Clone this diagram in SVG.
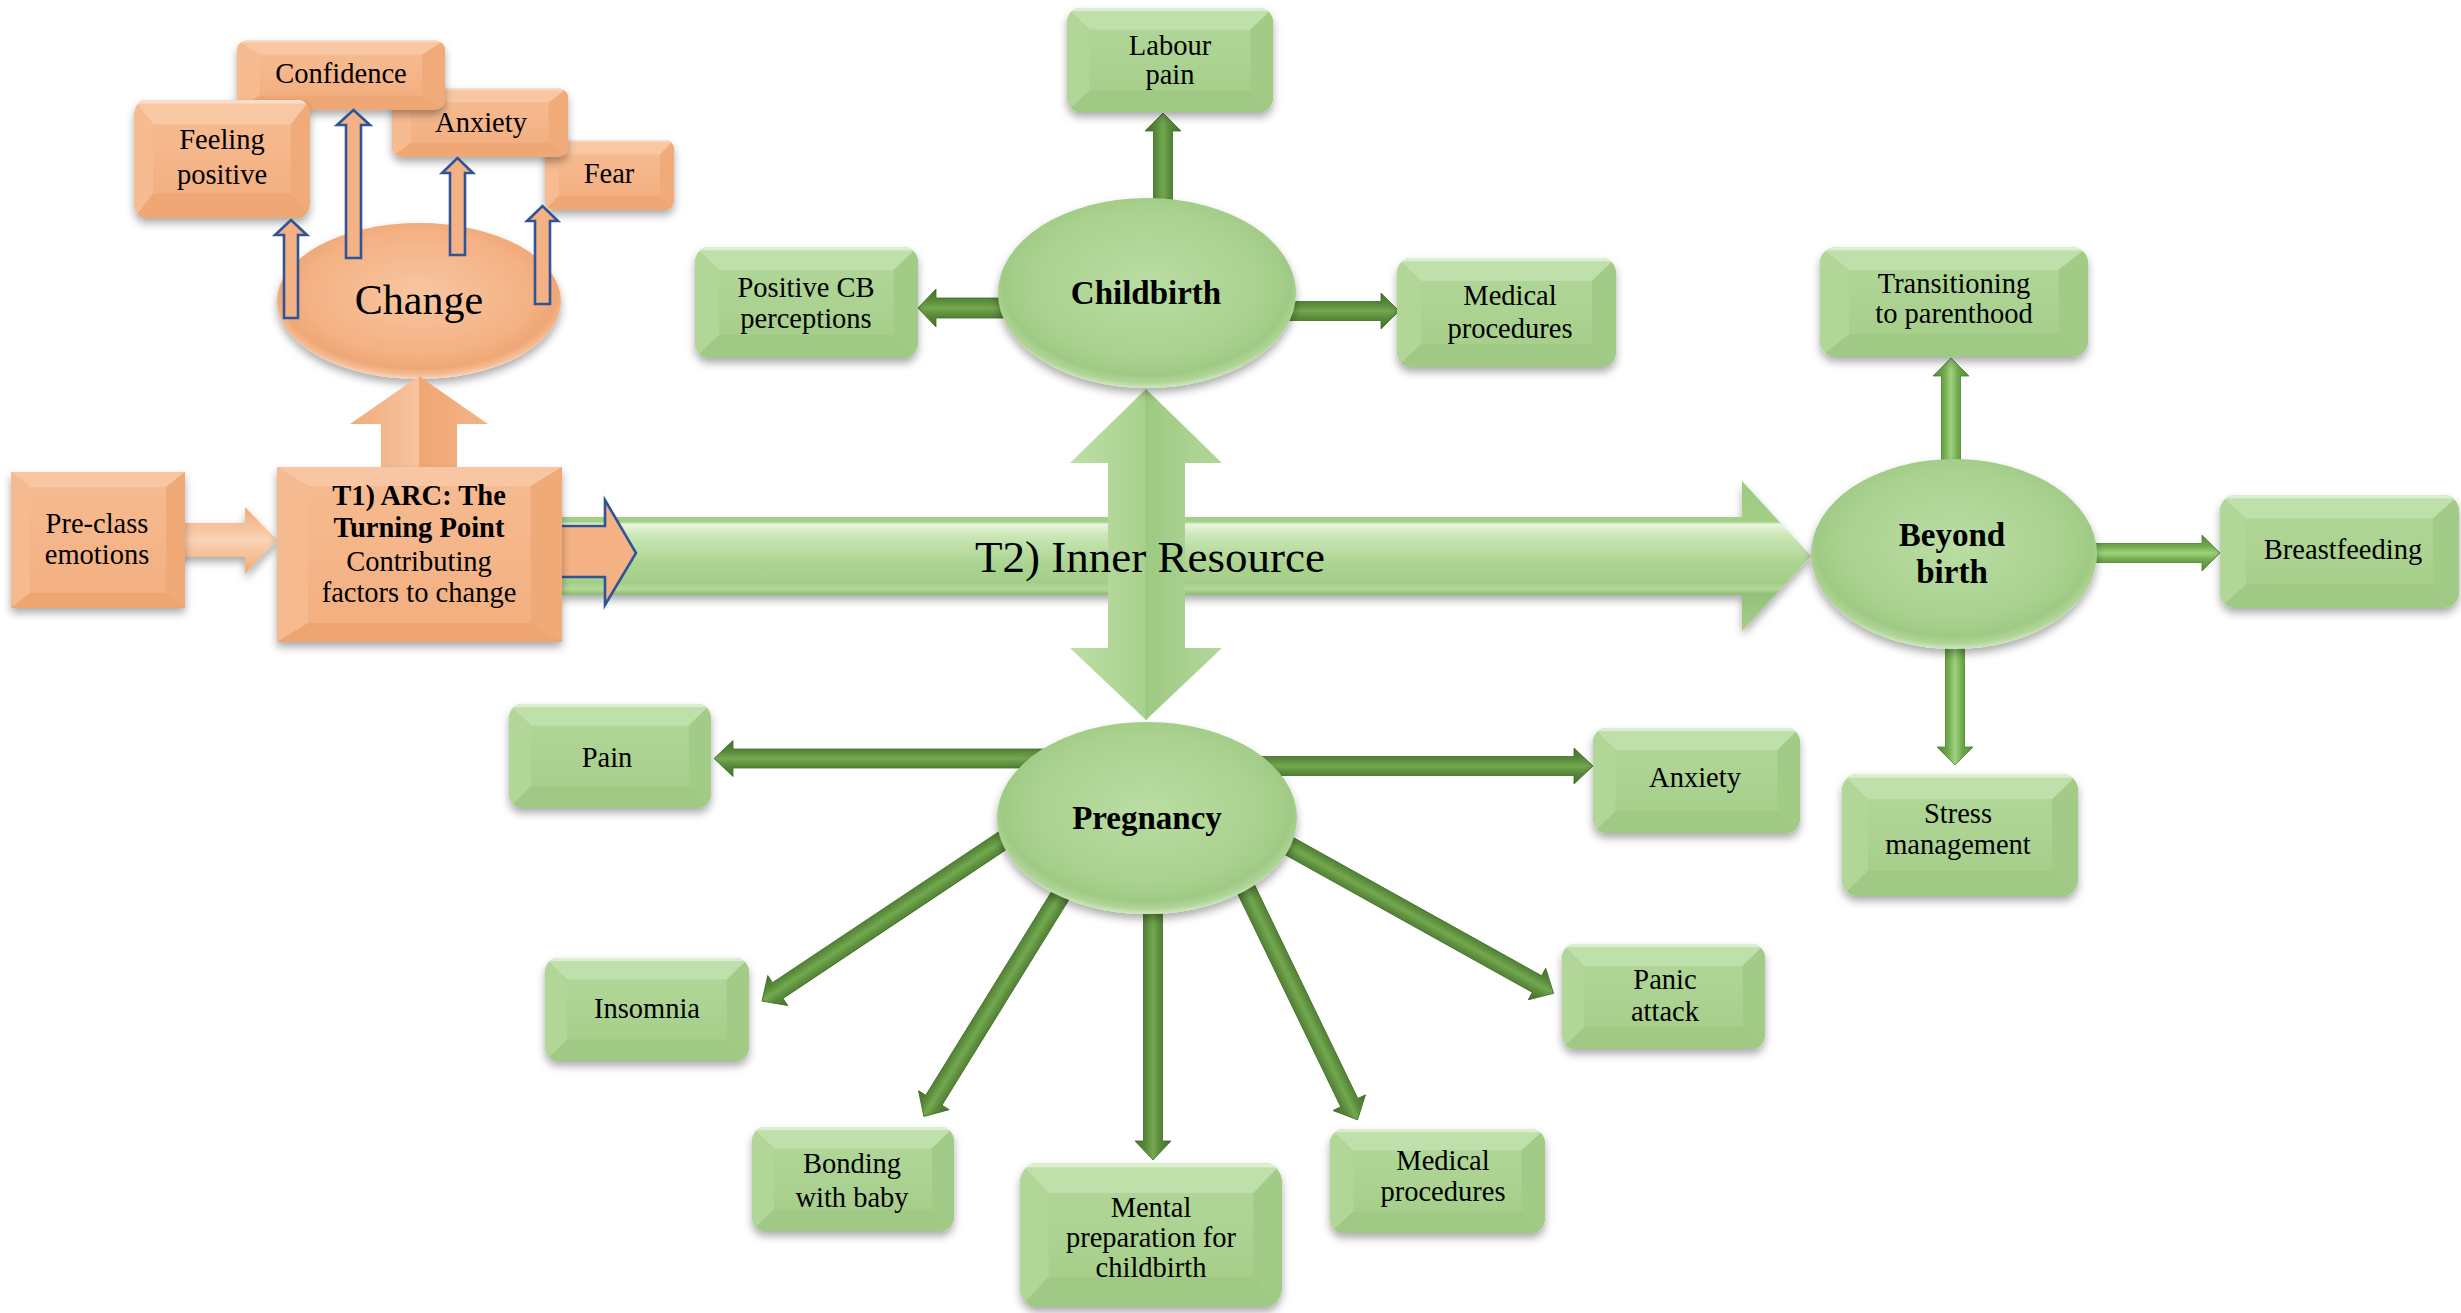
<svg xmlns="http://www.w3.org/2000/svg" width="2461" height="1313" viewBox="0 0 2461 1313">
  <style>
    .t { font-family: "Liberation Serif", "Times New Roman", serif; font-size: 28.5px; fill: #000; text-anchor: middle; }
    .b { font-weight: bold; font-size: 33px; }
    .tb { font-weight: bold; }
    .big { font-size: 42px; }
    .t2 { font-size: 45px; text-anchor: start; }
    .hollow { fill: #f4b183; stroke: #2f5597; stroke-width: 2.6; stroke-linejoin: miter; }
    .dark { fill: url(#darkArrow); stroke: #3f6b25; stroke-width: 0.8; }
    .light { fill: url(#lightArrow); stroke: #4a8030; stroke-width: 0.8; }
  </style>
  <defs>
    <filter id="sh" x="-10%" y="-10%" width="120%" height="135%">
      <feDropShadow dx="0" dy="5" stdDeviation="4" flood-color="#000" flood-opacity="0.33"/>
    </filter>
    <clipPath id="rr"><rect width="200" height="100" rx="13" ry="14"/></clipPath>
    <linearGradient id="gface" x1="0" y1="0" x2="0" y2="1">
      <stop offset="0" stop-color="#b0d697"/>
      <stop offset="1" stop-color="#a7cf8b"/>
    </linearGradient>
    <linearGradient id="oface" x1="0" y1="0" x2="0" y2="1">
      <stop offset="0" stop-color="#f6ba90"/>
      <stop offset="1" stop-color="#f3b081"/>
    </linearGradient>
    <!-- bevelled green rounded box -->
    <symbol id="gbox" viewBox="0 0 200 100" preserveAspectRatio="none">
      <g clip-path="url(#rr)">
        <rect width="200" height="100" fill="#a9d18e"/>
        <polygon points="0,0 200,0 178,21 22,21" fill="#c0e0ab"/>
        <polygon points="0,0 22,21 22,79 0,100" fill="#b1d698"/>
        <polygon points="200,0 178,21 178,79 200,100" fill="#a2cb87"/>
        <polygon points="0,100 22,79 178,79 200,100" fill="#a0c985"/>
        <rect x="22" y="21" width="156" height="58" fill="url(#gface)"/>
        <rect x="0" y="0" width="200" height="3" fill="#dcefcf"/>
      </g>
    </symbol>
    <!-- bevelled orange rounded box -->
    <symbol id="obox" viewBox="0 0 200 100" preserveAspectRatio="none">
      <g clip-path="url(#rr)">
        <rect width="200" height="100" fill="#f4b183"/>
        <polygon points="0,0 200,0 178,21 22,21" fill="#f8c8a5"/>
        <polygon points="0,0 22,21 22,79 0,100" fill="#f6bb91"/>
        <polygon points="200,0 178,21 178,79 200,100" fill="#f1ab7a"/>
        <polygon points="0,100 22,79 178,79 200,100" fill="#efa775"/>
        <rect x="22" y="21" width="156" height="58" fill="url(#oface)"/>
        <rect x="0" y="0" width="200" height="3" fill="#fbdcc6"/>
      </g>
    </symbol>
    <!-- bevelled orange square-cornered box -->
    <symbol id="osq" viewBox="0 0 200 200" preserveAspectRatio="none">
      <rect width="200" height="200" fill="#f4b183"/>
      <polygon points="0,0 200,0 178,22 22,22" fill="#f8c6a2"/>
      <polygon points="0,0 22,22 22,178 0,200" fill="#f6ba90"/>
      <polygon points="200,0 178,22 178,178 200,200" fill="#f0aa78"/>
      <polygon points="0,200 22,178 178,178 200,200" fill="#eea572"/>
      <rect x="22" y="22" width="156" height="156" fill="url(#oface)"/>
    </symbol>
    <radialGradient id="gEll" cx="50%" cy="45%" r="55%">
      <stop offset="0" stop-color="#bbdda4"/>
      <stop offset="0.72" stop-color="#a9d18e"/>
      <stop offset="0.88" stop-color="#9fca84"/>
      <stop offset="0.95" stop-color="#b0d597"/>
      <stop offset="1" stop-color="#d0e8c0"/>
    </radialGradient>
    <radialGradient id="oEll" cx="50%" cy="45%" r="55%">
      <stop offset="0" stop-color="#f8c6a2"/>
      <stop offset="0.72" stop-color="#f4b183"/>
      <stop offset="0.88" stop-color="#efa776"/>
      <stop offset="0.95" stop-color="#f5bb92"/>
      <stop offset="1" stop-color="#fad6bc"/>
    </radialGradient>
    <linearGradient id="darkArrow" x1="0" y1="0" x2="0" y2="1">
      <stop offset="0" stop-color="#44702a"/>
      <stop offset="0.3" stop-color="#58893a"/>
      <stop offset="0.5" stop-color="#74a84f"/>
      <stop offset="0.7" stop-color="#58893a"/>
      <stop offset="1" stop-color="#44702a"/>
    </linearGradient>
    <linearGradient id="lightArrow" x1="0" y1="0" x2="0" y2="1">
      <stop offset="0" stop-color="#4e8a31"/>
      <stop offset="0.3" stop-color="#6ea84a"/>
      <stop offset="0.5" stop-color="#a0d27f"/>
      <stop offset="0.7" stop-color="#6ea84a"/>
      <stop offset="1" stop-color="#4e8a31"/>
    </linearGradient>
    <linearGradient id="hArrow" x1="0" y1="0" x2="0" y2="1">
      <stop offset="0" stop-color="#9ccb80"/>
      <stop offset="0.27" stop-color="#a3cf87"/>
      <stop offset="0.29" stop-color="#e9f5de"/>
      <stop offset="0.36" stop-color="#cbe7b7"/>
      <stop offset="0.55" stop-color="#acd491"/>
      <stop offset="0.68" stop-color="#a4ce88"/>
      <stop offset="0.72" stop-color="#b4d99c"/>
      <stop offset="0.75" stop-color="#93c177"/>
      <stop offset="1" stop-color="#a3cf87"/>
    </linearGradient>
    <linearGradient id="vArrow" x1="0" y1="0" x2="1" y2="0">
      <stop offset="0" stop-color="#bddfa6"/>
      <stop offset="0.5" stop-color="#a9d18e"/>
      <stop offset="0.5" stop-color="#9dc982"/>
      <stop offset="1" stop-color="#b3d89a"/>
    </linearGradient>
    <linearGradient id="oArrowV" x1="0" y1="0" x2="1" y2="0">
      <stop offset="0" stop-color="#f2aa78"/>
      <stop offset="0.5" stop-color="#f7c4a0"/>
      <stop offset="0.5" stop-color="#f0a774"/>
      <stop offset="1" stop-color="#f4b486"/>
    </linearGradient>
    <linearGradient id="oArrowH" x1="0" y1="0" x2="0" y2="1">
      <stop offset="0" stop-color="#f2aa78"/>
      <stop offset="0.5" stop-color="#fad3b6"/>
      <stop offset="1" stop-color="#f0a672"/>
    </linearGradient>
  </defs>

  <rect width="2461" height="1313" fill="#fff"/>

  <!-- orange cluster: the change and its emotions -->
  <g id="node-fear">
    <use href="#obox" x="545" y="140" width="129" height="70" filter="url(#sh)"/>
    <text class="t" x="609" y="183">Fear</text>
  </g>
  <g id="node-anxiety-change">
    <use href="#obox" x="392" y="88" width="176" height="69" filter="url(#sh)"/>
    <text class="t" x="481" y="132">Anxiety</text>
  </g>
  <g id="node-confidence">
    <use href="#obox" x="237" y="40" width="208" height="70" filter="url(#sh)"/>
    <text class="t" x="341" y="83">Confidence</text>
  </g>
  <g id="node-feeling-positive">
    <use href="#obox" x="134" y="100" width="176" height="118" filter="url(#sh)"/>
    <text class="t" x="222" y="149">Feeling</text>
    <text class="t" x="222" y="184">positive</text>
  </g>
  <g id="node-change">
    <ellipse cx="419" cy="301" rx="142" ry="78" fill="url(#oEll)" filter="url(#sh)"/>
    <text class="t big" x="419" y="314">Change</text>
  </g>

  <g id="connectors">
    <!-- T2 main flow arrow and the double arrow crossing it -->
    <path d="M560,517H1742V481L1811,556L1742,631V595H560Z" fill="url(#hArrow)" filter="url(#sh)"/>
    <path d="M1146,389L1222,463H1185V648H1222L1146,720L1070,648H1108V463H1070Z" fill="url(#vArrow)"/>
    <path d="M1146,389V720" stroke="#9ac67e" stroke-width="1" fill="none"/>
    <text class="t t2" x="975" y="572">T2) Inner Resource</text>

    <!-- Pregnancy spokes -->
    <path class="dark" transform="translate(1100,758.5) rotate(180)" d="M0,-9.5H367V-18L386,0L367,18V9.5H0Z"/>
    <path class="dark" transform="translate(1200,766)" d="M0,-9.5H374V-18L393,0L374,18V9.5H0Z"/>
    <path class="dark" transform="translate(1044,813) rotate(146.3)" d="M0,-9.5H320V-18L339,0L320,18V9.5H0Z"/>
    <path class="dark" transform="translate(1081,862) rotate(121.7)" d="M0,-9.5H280V-18L299,0L280,18V9.5H0Z"/>
    <path class="dark" transform="translate(1153,860) rotate(90)" d="M0,-9.5H281V-18L300,0L281,18V9.5H0Z"/>
    <path class="dark" transform="translate(1230,856) rotate(64.2)" d="M0,-9.5H274V-18L293,0L274,18V9.5H0Z"/>
    <path class="dark" transform="translate(1253,826) rotate(29.1)" d="M0,-9.5H325V-18L344,0L325,18V9.5H0Z"/>

    <!-- Childbirth spokes -->
    <path class="dark" transform="translate(1163,260) rotate(-90)" d="M0,-9.5H129V-18L147,0L129,18V9.5H0Z"/>
    <path class="dark" transform="translate(1080,308) rotate(180)" d="M0,-10H144V-19L162,0L144,19V10H0Z"/>
    <path class="dark" transform="translate(1220,311)" d="M0,-9.5H161V-18L179,0L161,18V9.5H0Z"/>

    <!-- Beyond birth spokes -->
    <path class="light" transform="translate(1951,500) rotate(-90)" d="M0,-9.5H124V-18L142,0L124,18V9.5H0Z"/>
    <path class="light" transform="translate(2040,553)" d="M0,-9.5H162V-18L180,0L162,18V9.5H0Z"/>
    <path class="light" transform="translate(1955,610) rotate(90)" d="M0,-9.5H137V-18L155,0L137,18V9.5H0Z"/>

    <!-- orange flow arrows around T1 -->
    <path d="M168,523H245V507L277,540L245,574V557H168Z" fill="url(#oArrowH)" filter="url(#sh)"/>
    <path d="M419,376L488,424H457V472H381V424H350Z" fill="url(#oArrowV)"/>
    <path class="hollow" d="M556,526H605V500L636,553L605,605V577H556Z"/>

    <!-- outlined arrows from Change to each emotion -->
    <path class="hollow" d="M284,318V235H275L291,220L307,235H298V318Z"/>
    <path class="hollow" d="M346,258V125H337L353.5,110L370,125H361V258Z"/>
    <path class="hollow" d="M450,255V173H442L457.5,158L473,173H465V255Z"/>
    <path class="hollow" d="M535,304V221H527L542.5,206L558,221H550V304Z"/>
  </g>

  <!-- T1 theme -->
  <g id="node-pre-class">
    <use href="#osq" x="11" y="472" width="174" height="136" filter="url(#sh)"/>
    <text class="t" x="97" y="533">Pre-class</text>
    <text class="t" x="97" y="564">emotions</text>
  </g>
  <g id="node-t1">
    <use href="#osq" x="277" y="467" width="285" height="175" filter="url(#sh)"/>
    <text class="t tb" x="419" y="505">T1) ARC: The</text>
    <text class="t tb" x="419" y="537">Turning Point</text>
    <text class="t" x="419" y="571">Contributing</text>
    <text class="t" x="419" y="602">factors to change</text>
  </g>

  <!-- Childbirth -->
  <g id="node-childbirth">
    <ellipse cx="1147" cy="293" rx="149" ry="95" fill="url(#gEll)" filter="url(#sh)"/>
    <text class="t b" x="1146" y="304">Childbirth</text>
  </g>
  <g id="node-labour-pain">
    <use href="#gbox" x="1067" y="8" width="206" height="104" filter="url(#sh)"/>
    <text class="t" x="1170" y="55">Labour</text>
    <text class="t" x="1170" y="84">pain</text>
  </g>
  <g id="node-positive-cb">
    <use href="#gbox" x="695" y="247" width="223" height="111" filter="url(#sh)"/>
    <text class="t" x="806" y="297">Positive CB</text>
    <text class="t" x="806" y="328">perceptions</text>
  </g>
  <g id="node-medical-cb">
    <use href="#gbox" x="1397" y="258" width="219" height="109" filter="url(#sh)"/>
    <text class="t" x="1510" y="305">Medical</text>
    <text class="t" x="1510" y="338">procedures</text>
  </g>

  <!-- Pregnancy -->
  <g id="node-pregnancy">
    <ellipse cx="1147" cy="818" rx="150" ry="96" fill="url(#gEll)" filter="url(#sh)"/>
    <text class="t b" x="1147" y="829">Pregnancy</text>
  </g>
  <g id="node-pain">
    <use href="#gbox" x="509" y="704" width="202" height="104" filter="url(#sh)"/>
    <text class="t" x="607" y="767">Pain</text>
  </g>
  <g id="node-anxiety">
    <use href="#gbox" x="1593" y="728" width="207" height="105" filter="url(#sh)"/>
    <text class="t" x="1695" y="787">Anxiety</text>
  </g>
  <g id="node-insomnia">
    <use href="#gbox" x="545" y="958" width="204" height="103" filter="url(#sh)"/>
    <text class="t" x="647" y="1018">Insomnia</text>
  </g>
  <g id="node-bonding">
    <use href="#gbox" x="752" y="1127" width="202" height="104" filter="url(#sh)"/>
    <text class="t" x="852" y="1173">Bonding</text>
    <text class="t" x="852" y="1207">with baby</text>
  </g>
  <g id="node-mental">
    <use href="#gbox" x="1020" y="1163" width="262" height="144" filter="url(#sh)"/>
    <text class="t" x="1151" y="1217">Mental</text>
    <text class="t" x="1151" y="1247">preparation for</text>
    <text class="t" x="1151" y="1277">childbirth</text>
  </g>
  <g id="node-medical-preg">
    <use href="#gbox" x="1330" y="1129" width="215" height="104" filter="url(#sh)"/>
    <text class="t" x="1443" y="1170">Medical</text>
    <text class="t" x="1443" y="1201">procedures</text>
  </g>
  <g id="node-panic">
    <use href="#gbox" x="1562" y="944" width="203" height="105" filter="url(#sh)"/>
    <text class="t" x="1665" y="989">Panic</text>
    <text class="t" x="1665" y="1021">attack</text>
  </g>

  <!-- Beyond birth -->
  <g id="node-beyond-birth">
    <ellipse cx="1954" cy="554" rx="143" ry="95" fill="url(#gEll)" filter="url(#sh)"/>
    <text class="t b" x="1952" y="546">Beyond</text>
    <text class="t b" x="1952" y="583">birth</text>
  </g>
  <g id="node-transitioning">
    <use href="#gbox" x="1820" y="247" width="268" height="110" filter="url(#sh)"/>
    <text class="t" x="1954" y="293">Transitioning</text>
    <text class="t" x="1954" y="323">to parenthood</text>
  </g>
  <g id="node-breastfeeding">
    <use href="#gbox" x="2220" y="495" width="239" height="113" filter="url(#sh)"/>
    <text class="t" x="2343" y="559">Breastfeeding</text>
  </g>
  <g id="node-stress">
    <use href="#gbox" x="1842" y="774" width="236" height="122" filter="url(#sh)"/>
    <text class="t" x="1958" y="823">Stress</text>
    <text class="t" x="1958" y="854">management</text>
  </g>
</svg>
